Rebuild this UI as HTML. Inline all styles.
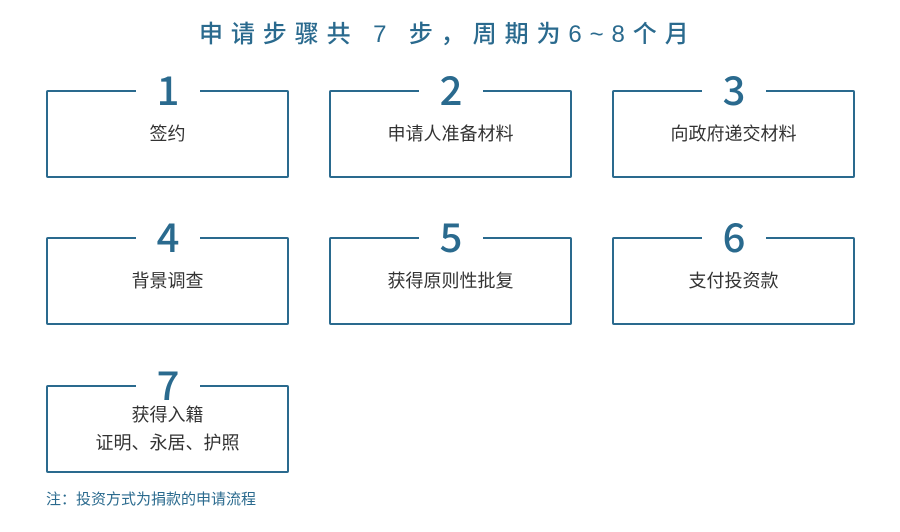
<!DOCTYPE html>
<html><head><meta charset="utf-8"><style>
body{margin:0;width:900px;height:532px;background:#fff;position:relative;overflow:hidden;font-family:"Liberation Sans","Noto Sans CJK SC",sans-serif}
.t{position:absolute;left:199px;top:14px;font-size:24px;letter-spacing:7.9px;color:#2a6a8e;white-space:nowrap;font-weight:500}
.b{position:absolute;width:239px;height:84px;border:2px solid #2a6a8e;border-radius:2px}
.n{position:absolute;left:88px;width:64px;top:-26px;height:44px;background:#fff;text-align:center;font-size:40px;line-height:44px;color:#2a6a8e;font-weight:500;font-family:"Noto Sans CJK SC","Liberation Sans",sans-serif}
.l{position:absolute;left:0;right:0;top:29px;text-align:center;font-size:18px;color:#333;line-height:26px}
.note{position:absolute;left:46px;top:488px;font-size:15px;color:#2a6a8e}
</style></head><body>
<div class="t">申请步骤共 7 步，周期为6~8个月</div>
<div class="b" style="left:46px;top:90px"><div class="n">1</div><div class="l">签约</div></div>
<div class="b" style="left:329px;top:90px"><div class="n">2</div><div class="l">申请人准备材料</div></div>
<div class="b" style="left:612px;top:90px"><div class="n">3</div><div class="l">向政府递交材料</div></div>
<div class="b" style="left:46px;top:237px"><div class="n">4</div><div class="l">背景调查</div></div>
<div class="b" style="left:329px;top:237px"><div class="n">5</div><div class="l">获得原则性批复</div></div>
<div class="b" style="left:612px;top:237px"><div class="n">6</div><div class="l">支付投资款</div></div>
<div class="b" style="left:46px;top:385px"><div class="n">7</div><div class="l" style="top:14px;line-height:28px">获得入籍<br>证明、永居、护照</div></div>
<div class="note">注：投资方式为捐款的申请流程</div>
</body></html>
